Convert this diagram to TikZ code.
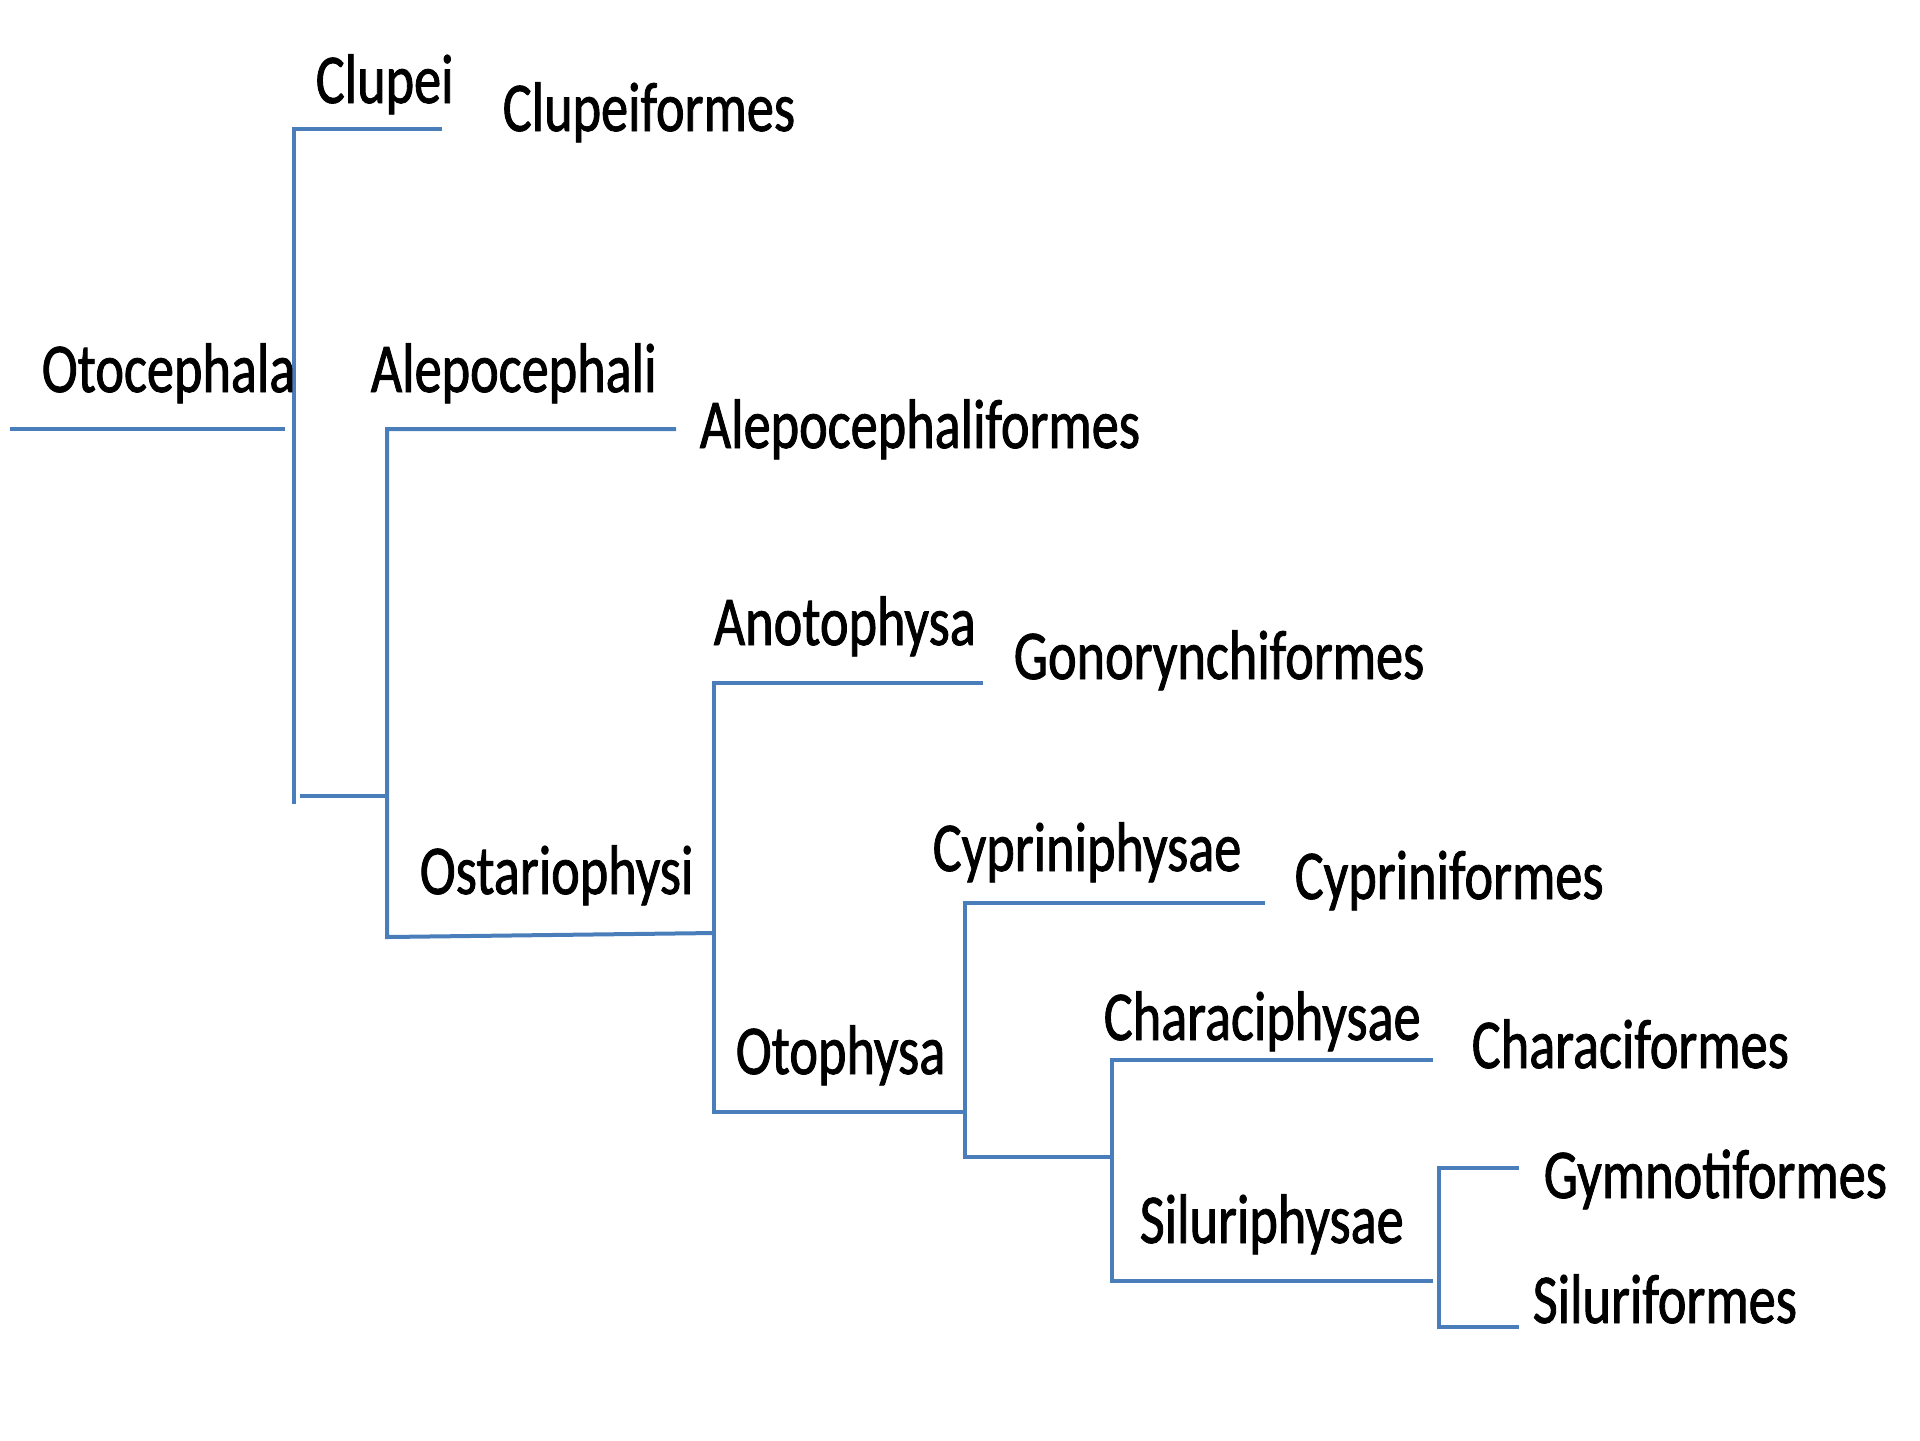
\documentclass[tikz,border=0pt]{standalone}
\usepackage{fontspec}
\setmainfont{Carlito}[FakeStretch=0.775,FakeBold=1.2]
\definecolor{branchblue}{RGB}{74,126,187}

\begin{document}
\begin{tikzpicture}[x=0.25pt,y=0.25pt,yscale=-1,xscale=1,
    branch/.style={draw=branchblue, line width=1pt},
    taxon/.style={anchor=base west, inner sep=0pt, font=\fontsize{17.5}{21}\selectfont}]

            \useasboundingbox (0,0) rectangle (1920,1440);

            % Branch ends
            \coordinate (rootL)  at (10,429);
            \coordinate (rootR)  at (285,429);
            \coordinate (clupR)  at (442,129);
            \coordinate (j1)     at (294,804);
            \coordinate (j1s)    at (300,796);
            \coordinate (aleR)   at (676,429);
            \coordinate (j2)     at (387,937);
            \coordinate (j2s)    at (387,796);
            \coordinate (ostR)   at (714,933);
            \coordinate (anoR)   at (983,683);
            \coordinate (j3)     at (714,1112);
            \coordinate (otoR)   at (965,1112);
            \coordinate (cypR)   at (1265,903);
            \coordinate (j4)     at (965,1157);
            \coordinate (j4s)    at (1112,1157);
            \coordinate (chaR)   at (1433,1060);
            \coordinate (j5)     at (1112,1281);
            \coordinate (silR)   at (1433,1281);
            \coordinate (gymR)   at (1519,1168);
            \coordinate (j6)     at (1439,1327);
            \coordinate (silfR)  at (1519,1327);

            % Branches
            \draw[branch] (rootL) -- (rootR);
            \draw[branch] (clupR) -| (j1);
            \draw[branch] (j1s) -- (j2s);
            \draw[branch] (aleR) -| (j2) -- (ostR);
            \draw[branch] (anoR) -| (j3) -- (otoR);
            \draw[branch] (cypR) -| (j4) -- (j4s);
            \draw[branch] (chaR) -| (j5) -- (silR);
            \draw[branch] (gymR) -| (j6) -- (silfR);

            % Labels
            \draw (315,103)  node (clupei) [taxon] {Clupei};
            \draw (502,131)  node (clupeiformes) [taxon] {Clupeiformes};
            \draw (41,392)   node (otocephala) [taxon] {Otocephala};
            \draw (370,392)  node (alepocephali) [taxon] {Alepocephali};
            \draw (699,448)  node (alepocephaliformes) [taxon] {Alepocephaliformes};
            \draw (713,645)  node (anotophysa) [taxon] {Anotophysa};
            \draw (1013,679) node (gonorynchiformes) [taxon] {Gonorynchiformes};
            \draw (419,894)  node (ostariophysi) [taxon] {Ostariophysi};
            \draw (932,871)  node (cypriniphysae) [taxon] {Cypriniphysae};
            \draw (1294,899) node (cypriniformes) [taxon] {Cypriniformes};
            \draw (735,1074) node (otophysa) [taxon] {Otophysa};
            \draw (1103,1040) node (characiphysae) [taxon] {Characiphysae};
            \draw (1471,1068) node (characiformes) [taxon] {Characiformes};
            \draw (1139,1243) node (siluriphysae) [taxon] {Siluriphysae};
            \draw (1543,1198) node (gymnotiformes) [taxon] {Gymnotiformes};
            \draw (1532,1323) node (siluriformes) [taxon] {Siluriformes};

            \end{tikzpicture}
\end{document}
